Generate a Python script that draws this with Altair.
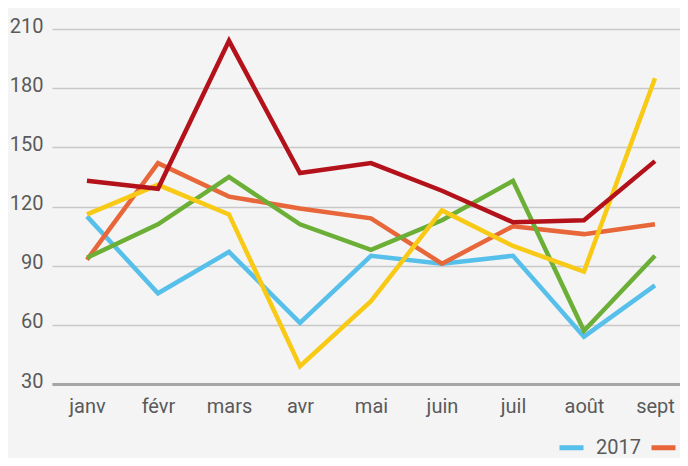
import altair as alt
import pandas as pd

months = ["janv", "févr", "mars", "avr", "mai", "juin", "juil", "août", "sept"]
series = ["2017", "2018", "2019", "2020", "2021"]
colors = ["#56BFEA", "#E8673A", "#6BAF36", "#F8CA16", "#B4121B"]
v2017 = [115, 76, 97, 61, 95, 91, 95, 54, 80]
v2018 = [93, 142, 125, 119, 114, 91, 110, 106, 111]
v2019 = [94, 111, 135, 111, 98, 113, 133, 57, 95]
v2020 = [116, 131, 116, 39, 72, 118, 100, 87, 185]
v2021 = [133, 129, 204, 137, 142, 128, 112, 113, 143]
y_ticks = [30, 60, 90, 120, 150, 180, 210]

rows = []
for s, vals in zip(series, [v2017, v2018, v2019, v2020, v2021]):
    for m, v in zip(months, vals):
        rows.append({"serie": s, "mois": m, "valeur": v})
df = pd.DataFrame(rows)

font = "Roboto, Liberation Sans, sans-serif"
txt = "#5a5a5a"

chart = alt.Chart(df).mark_line(strokeWidth=4.5).encode(
    x=alt.X("mois:N", sort=months, scale=alt.Scale(padding=0.4225, align=0.583),
            axis=alt.Axis(title=None, labelAngle=0, ticks=False, grid=False,
                          domainColor="#a6a6a6", domainWidth=3,
                          labelFontSize=20, labelColor=txt, labelFont=font,
                          labelBaseline="alphabetic", labelPadding=28)),
    y=alt.Y("valeur:Q", scale=alt.Scale(domain=[30, 210]),
            axis=alt.Axis(values=y_ticks, title=None, domain=False, ticks=False,
                          gridColor="#c8c8c8", gridWidth=1.5,
                          labelFontSize=20, labelColor=txt, labelFont=font,
                          labelBaseline="alphabetic", labelOffset=3,
                          labelPadding=9)),
    color=alt.Color("serie:N", scale=alt.Scale(domain=series, range=colors),
                    legend=alt.Legend(orient="none", legendX=505, legendY=404,
                                      direction="horizontal", title=None,
                                      symbolType="stroke", symbolStrokeWidth=5,
                                      symbolSize=576, labelFontSize=20,
                                      labelFont=font, labelColor=txt,
                                      values=["2017", "2018"],
                                      labelExpr="datum.label == '2017' ? '2017' : ''",
                                      columnPadding=0, labelOffset=10)),
).properties(
    width=628, height=355,
    autosize=alt.AutoSizeParams(type="none"),
    padding={"left": 44, "top": 21, "right": 0, "bottom": 74},
    background="#F4F4F4",
).configure_view(stroke=None)

chart.save("out.html", embed_options={"renderer": "svg", "actions": False})
